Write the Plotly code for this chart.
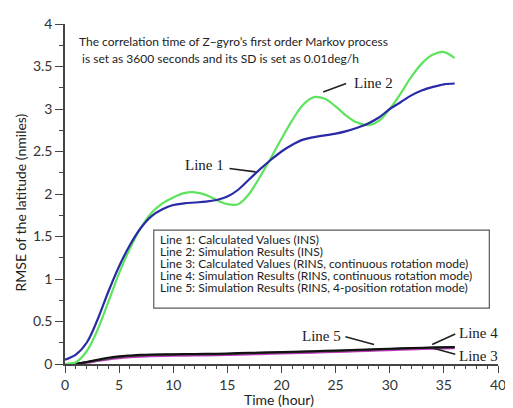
import plotly.graph_objects as go

# ---- data ----
t_ins = [0, 1, 2, 3, 4, 5, 6, 7, 8, 9, 10, 11, 12, 13, 14, 15, 16, 17, 18, 19,
         20, 21, 22, 23, 24, 25, 26, 27, 28, 29, 30, 31, 32, 33, 34, 35, 36]
line1 = [0.05, 0.11, 0.25, 0.52, 0.85, 1.15, 1.40, 1.60, 1.74, 1.82, 1.87, 1.89,
         1.90, 1.91, 1.93, 1.97, 2.05, 2.17, 2.29, 2.40, 2.50, 2.58, 2.64, 2.67,
         2.69, 2.71, 2.74, 2.78, 2.83, 2.90, 3.00, 3.08, 3.16, 3.22, 3.26, 3.29, 3.30]
line2 = [0.0, 0.02, 0.15, 0.40, 0.73, 1.07, 1.36, 1.60, 1.78, 1.89, 1.96, 2.01,
         2.02, 1.99, 1.93, 1.88, 1.88, 2.00, 2.20, 2.42, 2.65, 2.87, 3.05, 3.14,
         3.12, 3.03, 2.92, 2.84, 2.81, 2.86, 3.00, 3.18, 3.38, 3.54, 3.64, 3.67, 3.60]

t_rins = [0, 1, 2, 3, 4, 5, 6, 7, 8, 10, 12, 14, 16, 18, 20, 22, 24, 26, 28, 30,
          32, 34, 36]
line3 = [0.0, 0.003, 0.015, 0.035, 0.055, 0.07, 0.08, 0.087, 0.092, 0.097, 0.100,
         0.104, 0.110, 0.117, 0.124, 0.131, 0.138, 0.146, 0.155, 0.164, 0.172,
         0.180, 0.185]
line4 = [0.0, 0.005, 0.025, 0.05, 0.075, 0.09, 0.10, 0.108, 0.112, 0.115, 0.118,
         0.122, 0.128, 0.135, 0.142, 0.148, 0.155, 0.163, 0.172, 0.180, 0.188,
         0.195, 0.200]
line5 = [0.0, 0.004, 0.02, 0.043, 0.066, 0.082, 0.093, 0.100, 0.105, 0.109, 0.112,
         0.116, 0.122, 0.129, 0.136, 0.143, 0.150, 0.158, 0.167, 0.176, 0.185,
         0.193, 0.198]

legend_lines = [
    "Line 1: Calculated Values (INS)",
    "Line 2: Simulation Results (INS)",
    "Line 3: Calculated Values (RINS, continuous rotation mode)",
    "Line 4: Simulation Results (RINS, continuous rotation mode)",
    "Line 5: Simulation Results (RINS, 4-position rotation mode)",
]
note_lines = [
    "The correlation time of Z\u2212gyro\u2019s first order Markov process",
    " is set as 3600 seconds and its SD is set as 0.01deg/h",
]

SANS = "Lato"
SERIF = "Liberation Serif"

fig = go.Figure()
fig.add_trace(go.Scatter(x=t_rins, y=line3, mode="lines", line=dict(color="#c23cc2", width=2.2, shape="spline")))
fig.add_trace(go.Scatter(x=t_rins, y=line5, mode="lines", line=dict(color="#3a3a3a", width=2, shape="spline")))
fig.add_trace(go.Scatter(x=t_rins, y=line4, mode="lines", line=dict(color="#111111", width=2, shape="spline")))
fig.add_trace(go.Scatter(x=t_ins, y=line2, mode="lines", line=dict(color="#5ee35e", width=2.2, shape="spline")))
fig.add_trace(go.Scatter(x=t_ins, y=line1, mode="lines", line=dict(color="#2a2aa6", width=2.2, shape="spline")))

# pointer lines for labels
pointers = [
    ((15.19, 2.30), (17.61, 2.26)),
    ((25.97, 3.30), (23.85, 3.20)),
    ((25.9, 0.321), (28.55, 0.229)),
    ((36.05, 0.352), (33.92, 0.229)),
    ((36.05, 0.115), (33.87, 0.19)),
]
for (x0, y0), (x1, y1) in pointers:
    fig.add_shape(type="line", x0=x0, y0=y0, x1=x1, y1=y1, xref="x", yref="y",
                  line=dict(color="#222222", width=1.6))

labels = [
    ("Line 1", 14.85, 2.34, "right"),
    ("Line 2", 26.5, 3.31, "left"),
    ("Line 5", 25.7, 0.325, "right"),
    ("Line 4", 36.2, 0.37, "left"),
    ("Line 3", 36.2, 0.092, "left"),
]
for txt, x, y, anc in labels:
    fig.add_annotation(text=txt, x=x, y=y, xref="x", yref="y", showarrow=False,
                       xanchor=anc, yanchor="middle",
                       font=dict(family=SERIF, size=15, color="#222222"))

# legend box
fig.add_shape(type="rect", x0=8.2, x1=39.2, y0=0.658, y1=1.575, xref="x", yref="y",
              line=dict(color="#5a5a5a", width=1.2), fillcolor="rgba(255,255,255,0)")
leg_y = [1.462, 1.318, 1.180, 1.042, 0.895]
for txt, y in zip(legend_lines, leg_y):
    fig.add_annotation(text=txt, x=8.6, y=y, xref="x", yref="y", showarrow=False,
                       xanchor="left", yanchor="middle",
                       font=dict(family=SANS, size=12, color="#222222"))

# note text
for txt, x, y in zip(note_lines, [1.1, 1.1], [3.795, 3.6]):
    fig.add_annotation(text=txt, x=x, y=y, xref="x", yref="y", showarrow=False,
                       xanchor="left", yanchor="middle",
                       font=dict(family=SANS, size=12, color="#222222"))

# axis titles
fig.add_annotation(text="RMSE of the latitude (nmiles)", x=-0.1025, y=0.474,
                   xref="paper", yref="paper", showarrow=False, textangle=-90,
                   xanchor="center", yanchor="middle",
                   font=dict(family=SANS, size=14, color="#222222"))
fig.add_annotation(text="Time (hour)", x=0.4945, y=-0.104,
                   xref="paper", yref="paper", showarrow=False,
                   xanchor="center", yanchor="middle",
                   font=dict(family=SANS, size=14, color="#222222"))

# page body has an 8px default margin, so the figure is 8px smaller
fig.update_layout(
    width=505, height=400,
    margin=dict(l=57, r=9, t=7, b=44),
    paper_bgcolor="white", plot_bgcolor="white",
    showlegend=False,
    xaxis=dict(range=[0, 40], dtick=5, tick0=0, showgrid=False, zeroline=False,
               showline=True, linecolor="#444444", linewidth=1.5,
               ticks="outside", ticklen=7, tickwidth=1.3, tickcolor="#444444",
               ticklabeloverflow="allow",
               minor=dict(dtick=1, ticks="outside", ticklen=3.5, tickcolor="#444444", tickwidth=1),
               tickfont=dict(family=SANS, size=14, color="#333333")),
    yaxis=dict(range=[0, 4], dtick=0.5, tick0=0, showgrid=False, zeroline=False,
               showline=True, linecolor="#444444", linewidth=1.5,
               ticks="outside", ticklen=8, tickwidth=1.3, tickcolor="#444444",
               ticklabeloverflow="allow",
               minor=dict(dtick=0.25, ticks="outside", ticklen=4, tickcolor="#444444", tickwidth=1),
               tickfont=dict(family=SANS, size=14, color="#333333")),
)

fig.write_html("out.html")
